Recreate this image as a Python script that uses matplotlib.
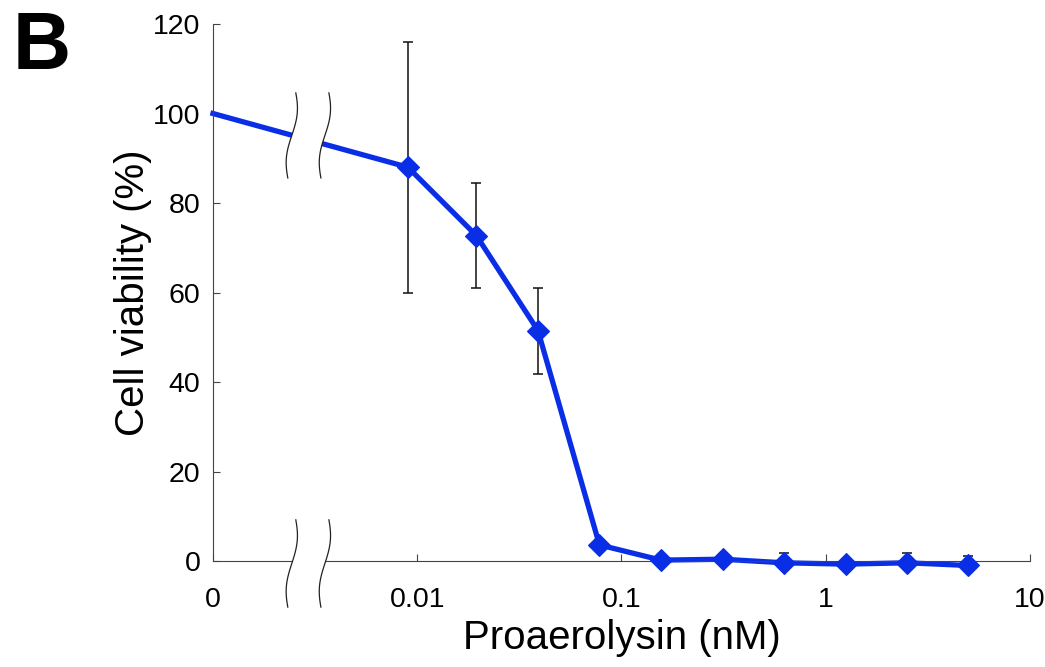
import numpy as np
import matplotlib
matplotlib.use("Agg")
import matplotlib.pyplot as plt

plt.rcParams['font.family'] = ['Liberation Sans', 'DejaVu Sans']

# proaerolysin dose (nM); 0 = untreated control
conc = [0, 0.009, 0.0195, 0.039, 0.078, 0.156, 0.3125, 0.625, 1.25, 2.5, 5]
viability = [100, 88.0, 72.7, 51.5, 3.6, 0.2, 0.4, -0.4, -0.7, -0.4, -1.0]
sd = [0, 28.0, 11.7, 9.6, 1.0, 0.8, 1.2, 2.2, 1.2, 2.2, 2.2]

x_ticks = [0.001, 0.01, 0.1, 1, 10]
x_tick_labels = ["0", "0.01", "0.1", "1", "10"]
y_ticks = [0, 20, 40, 60, 80, 100, 120]

ZERO_POS = 0.001          # where "0" sits on the log axis
BREAK_X = (0.002432, 0.003532)
BLUE = '#0a2ee6'


def break_curve(ax, xc, y_top, y_bot, n=50):
    # thin S-shaped squiggle, built in pixels then mapped back to data
    t = np.linspace(0, 1, n)
    px_top = ax.transData.transform((xc, y_top))
    px_bot = ax.transData.transform((xc, y_bot))
    dx = 4 * np.cos(np.pi * t) + 2.5 * np.sin(2 * np.pi * t)
    pts = np.column_stack((px_top[0] + dx, px_top[1] + t * (px_bot[1] - px_top[1])))
    return ax.transData.inverted().transform(pts)


def draw_break(ax, y_top, y_bot):
    c1 = break_curve(ax, BREAK_X[0], y_top, y_bot)
    c2 = break_curve(ax, BREAK_X[1], y_top, y_bot)
    gap = np.vstack((c1, c2[::-1]))
    ax.fill(gap[:, 0], gap[:, 1], color='white', lw=0, zorder=3.5, clip_on=False)
    for c in (c1, c2):
        ax.plot(c[:, 0], c[:, 1], color='#222222', lw=0.9, zorder=4, clip_on=False)


fig = plt.figure(figsize=(10.45, 6.67), dpi=100)
ax = fig.add_axes([0.2038, 0.1589, 0.7818, 0.8051])

x_plot = [ZERO_POS if c == 0 else c for c in conc]

ax.plot(x_plot, viability, '-', color=BLUE, lw=3.8, zorder=2, clip_on=False)
ax.errorbar(x_plot[1:], viability[1:], yerr=sd[1:], fmt='none', ecolor='#111111',
            elinewidth=1.1, capsize=3.6, capthick=1.1, zorder=2.5)
ax.plot(x_plot[1:], viability[1:], 'D', color=BLUE, markersize=11.5, mew=0.8,
        mec=BLUE, zorder=3, clip_on=False)

ax.set_xscale('log')
ax.set_xlim(0.001, 10)
ax.set_ylim(0, 120)
ax.set_xticks(x_ticks)
ax.set_xticklabels(x_tick_labels)
ax.minorticks_off()
ax.set_yticks(y_ticks)

for side in ('top', 'right'):
    ax.spines[side].set_visible(False)
for side in ('left', 'bottom'):
    ax.spines[side].set_color('#444444')
    ax.spines[side].set_linewidth(0.8)

ax.tick_params(axis='both', direction='in', length=5, width=0.8, color='#444444',
               labelsize=20.5, pad=9)
ax.tick_params(axis='x', pad=19)

ax.set_xlabel("Proaerolysin (nM)", fontsize=29, labelpad=4)
ax.set_ylabel("Cell viability (%)", fontsize=29, labelpad=1)

draw_break(ax, 104.6, 85.6)
draw_break(ax, 9.2, -10.3)

fig.text(0.012, 0.985, "B", fontsize=58, fontweight='bold', va='top', ha='left')

fig.savefig("out.png", dpi=100)
